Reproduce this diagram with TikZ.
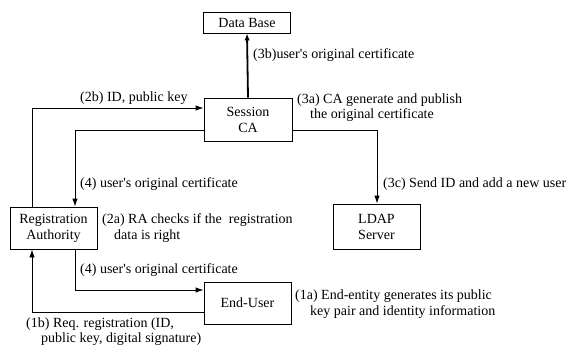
\documentclass[tikz,border=0pt]{standalone}
\usepackage{fontspec}
\setmainfont{Liberation Serif}
\usetikzlibrary{arrows.meta}
\newcommand{\apos}{\textquotesingle}
\begin{document}
\begin{tikzpicture}[x=1pt,y=-1pt,
  every node/.style={font=\fontsize{14}{16}\selectfont},
  box/.style={draw,line width=0.9pt,minimum width=87pt,inner sep=0pt,align=center},
  flow/.style={line width=0.9pt,-{Latex[length=8pt,width=5.5pt]}},
  lbl/.style={anchor=west,inner sep=0pt}]
\useasboundingbox (0,0) rectangle (583,348);

% entities
\node[box,minimum height=21pt] (db) at (247,22.5) {Data Base};
\node[box,minimum height=43pt,minimum width=88pt] (ca) at (248,119.5) {Session\\CA};
\node[box,minimum height=42pt] (ra) at (53.5,228) {Registration\\Authority};
\node[box,minimum height=42pt] (eu) at (247.5,303) {End-User};
\node[box,minimum height=45pt] (ldap) at (376.5,226.5) {LDAP\\Server};

% routing lanes for the elbow connectors
\coordinate (l2b) at (32,108);
\coordinate (l4a) at (75,130);
\coordinate (l4b) at (75,290);
\coordinate (l1b) at (32,312);
\coordinate (l3c) at (377,130);

% connectors
\draw[line width=1.8pt,-{Latex[length=7pt 0,width=5.5pt 0]}] (ca.north) -- (db.south);
\draw[flow] (ra.north -| l2b) |- (ca.west |- l2b);
\draw[flow] (ca.west |- l4a) -| (ra.north -| l4a);
\draw[flow] (ra.south -| l4b) |- (eu.west |- l4b);
\draw[flow] (eu.west |- l1b) -| (ra.south -| l1b);
\draw[flow] (ca.east |- l3c) -| (ldap.north -| l3c);

% step labels
\node[lbl] (t3b) at (253,55) {(3b)user\apos s original certificate};
\node[lbl] (t2b) at (80,98) {(2b) ID, public key};
\node[lbl] (t3a) at (297,100) {(3a) CA generate and publish};
\node[lbl] (t3a2) at (310,115.5) {the original certificate};
\node[lbl] (t4a) at (80,184) {(4) user\apos s original certificate};
\node[lbl] (t3c) at (383,184) {(3c) Send ID and add a new user};
\node[lbl] (t2a) at (102,220) {(2a) RA checks if the\ \ registration};
\node[lbl] (t2a2) at (114,236) {data is right};
\node[lbl] (t4b) at (80,270) {(4) user\apos s original certificate};
\node[lbl] (t1a) at (295,296) {(1a) End-entity generates its public};
\node[lbl] (t1a2) at (310,312) {key pair and identity information};
\node[lbl] (t1b) at (26,324) {(1b) Req. registration (ID,};
\node[lbl] (t1b2) at (41,339.5) {public key, digital signature)};
\end{tikzpicture}
\end{document}
